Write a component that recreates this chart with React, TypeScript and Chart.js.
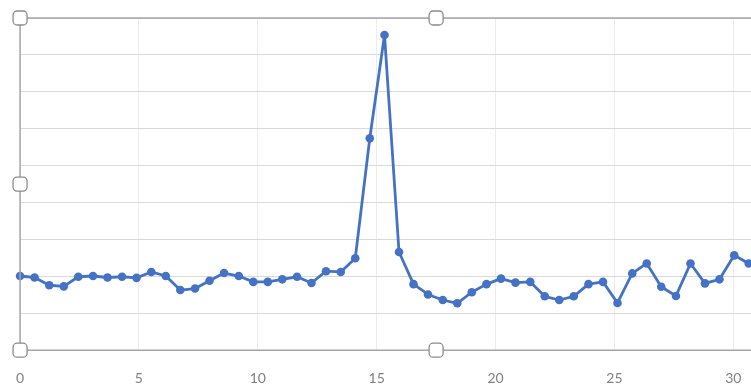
import React, { useEffect, useRef } from "react";
import { Chart, registerables } from "chart.js";

Chart.register(...registerables);

const xValues = [
  0, 0.61, 1.23, 1.84, 2.45, 3.07, 3.68, 4.29, 4.9, 5.52, 6.13, 6.74, 7.36, 7.97, 8.58, 9.2, 9.81,
  10.42, 11.03, 11.65, 12.26, 12.87, 13.49, 14.1, 14.71, 15.33, 15.94, 16.55, 17.16, 17.78, 18.39,
  19.0, 19.62, 20.23, 20.84, 21.46, 22.07, 22.68, 23.29, 23.91, 24.52, 25.13, 25.75, 26.36, 26.97,
  27.59, 28.2, 28.81, 29.42, 30.04, 30.65,
];
const yValues = [
  2.01, 1.97, 1.76, 1.73, 1.99, 2.01, 1.97, 1.99, 1.96, 2.12, 2.01, 1.63, 1.67, 1.88, 2.09, 2.01, 1.85,
  1.85, 1.92, 1.99, 1.82, 2.14, 2.12, 2.49, 5.74, 8.54, 2.66, 1.79, 1.51, 1.36, 1.27, 1.57, 1.79, 1.94,
  1.83, 1.85, 1.46, 1.36, 1.46, 1.79, 1.85, 1.28, 2.08, 2.35, 1.72, 1.47, 2.35, 1.81, 1.92, 2.57, 2.35,
];
const xTickValues = [0, 5, 10, 15, 20, 25, 30];
const handleXValues = [0, 17.5];

const frameAndHandles = {
  id: "frameAndHandles",
  afterDraw(chart: any) {
    const { ctx, chartArea } = chart;
    const xs = chart.scales.x;
    const { left, top, bottom } = chartArea;
    const right = chart.width;
    ctx.save();
    ctx.strokeStyle = "#a6a6a6";
    ctx.lineWidth = 1.5;
    ctx.beginPath();
    ctx.moveTo(right, top);
    ctx.lineTo(left, top);
    ctx.lineTo(left, bottom);
    ctx.lineTo(right, bottom);
    ctx.stroke();
    const mid = (top + bottom) / 2;
    const pts: [number, number][] = [];
    handleXValues.forEach((v) => {
      const px = xs.getPixelForValue(v);
      pts.push([px, top]);
      pts.push([px, bottom]);
      if (v === 0) pts.push([px, mid]);
    });
    pts.forEach(([x, y]) => {
      const s = 14;
      ctx.beginPath();
      ctx.roundRect(x - s / 2, y - s / 2, s, s, 4);
      ctx.fillStyle = "#ffffff";
      ctx.fill();
      ctx.strokeStyle = "#8c8c8c";
      ctx.lineWidth = 1.3;
      ctx.stroke();
    });
    ctx.restore();
  },
};

export default function App() {
  const ref = useRef<HTMLCanvasElement | null>(null);
  useEffect(() => {
    if (!ref.current) return;
    const chart = new Chart(ref.current, {
      type: "scatter",
      data: {
        datasets: [
          {
            data: xValues.map((x, i) => ({ x, y: yValues[i] })),
            showLine: true,
            borderColor: "#4472c4",
            backgroundColor: "#4472c4",
            borderWidth: 2.8,
            borderJoinStyle: "round",
            pointRadius: 4.3,
            pointBorderWidth: 0,
            tension: 0,
            clip: false,
          },
        ],
      },
      options: {
        animation: false,
        responsive: false,
        maintainAspectRatio: false,
        layout: { padding: { left: 0, top: 18, right: 0, bottom: -15 } },
        plugins: { legend: { display: false }, tooltip: { enabled: false } },
        scales: {
          x: {
            type: "linear",
            min: 0,
            max: 30.78,
            afterBuildTicks: (axis: any) => {
              axis.ticks = xTickValues.map((v) => ({ value: v }));
            },
            grid: { color: "#ececec", lineWidth: 1, drawTicks: false },
            border: { display: false },
            ticks: {
              color: "#808080",
              font: { family: "Lato, 'Open Sans', sans-serif", size: 14 },
              padding: 20,
              maxRotation: 0,
            },
          },
          y: {
            type: "linear",
            min: 0,
            max: 9,
            ticks: { stepSize: 1, display: false },
            grid: { color: "#d9d9d9", lineWidth: 1, drawTicks: false },
            border: { display: false },
          },
        },
      },
      plugins: [frameAndHandles],
    });
    return () => chart.destroy();
  }, []);
  return (
    <div style={{ position: "absolute", left: 0, top: 0, width: 751, height: 392, background: "#fff", overflow: "hidden" }}>
      <canvas ref={ref} width={765} height={392} style={{ position: "absolute", left: -4, top: 0 }} />
    </div>
  );
}
